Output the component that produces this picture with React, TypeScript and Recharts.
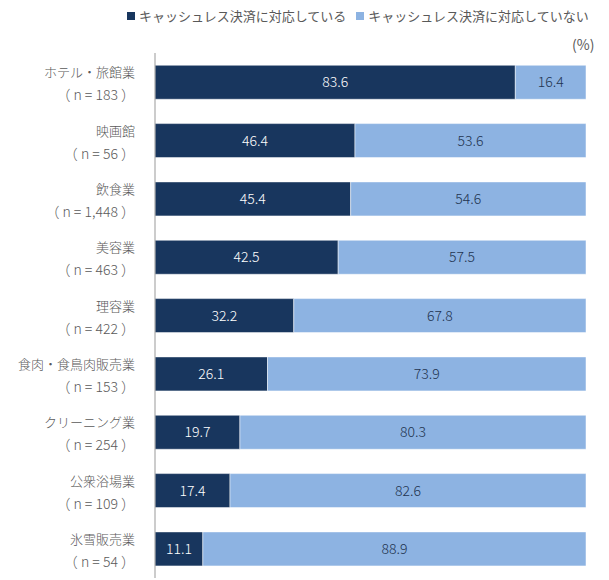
import { BarChart, Bar, XAxis, YAxis, LabelList } from 'recharts';

const categories = ['ホテル・旅館業', '映画館', '飲食業', '美容業', '理容業', '食肉・食鳥肉販売業', 'クリーニング業', '公衆浴場業', '氷雪販売業'];
const sampleSizes = ['183', '56', '1,448', '463', '422', '153', '254', '109', '54'];
const supported = [83.6, 46.4, 45.4, 42.5, 32.2, 26.1, 19.7, 17.4, 11.1];
const notSupported = [16.4, 53.6, 54.6, 57.5, 67.8, 73.9, 80.3, 82.6, 88.9];

const SERIES = [
  { key: 'supported', name: 'キャッシュレス決済に対応している', color: '#18365e', text: '#ffffff' },
  { key: 'notSupported', name: 'キャッシュレス決済に対応していない', color: '#8db3e2', text: '#1f3350' },
];

const FONT = '"Noto Sans CJK JP", "Noto Sans", sans-serif';

const data = categories.map((c, i) => ({
  name: c,
  n: sampleSizes[i],
  supported: supported[i],
  notSupported: notSupported[i],
}));

function CategoryTick({ x, y, payload, index }: any) {
  const n = sampleSizes[index ?? 0] ?? data.find((d) => d.name === payload.value)?.n;
  return (
    <g>
      <text x={x - 12} y={y - 5} textAnchor="end" fill="#595959" fontSize={13} fontWeight={300} fontFamily={FONT}>
        {payload.value}
      </text>
      <text x={x - 12} y={y + 18} textAnchor="end" fill="#595959" fontSize={14} fontWeight={300} fontFamily={FONT} xmlSpace="preserve">
        {`（ n = ${n} ）`}
      </text>
    </g>
  );
}

export default function App() {
  return (
    <div style={{ position: 'absolute', left: 0, top: 0, width: 609, height: 580, background: '#fff' }}>
      <div style={{ position: 'absolute', left: 127, top: 6, display: 'flex', fontFamily: FONT, fontSize: 13, color: '#595959' }}>
        {SERIES.map((s) => (
          <div key={s.key} style={{ display: 'flex', alignItems: 'center', marginRight: 10 }}>
            <span style={{ width: 8, height: 8, background: s.color, display: 'inline-block', marginRight: 4 }} />
            <span>{s.name}</span>
          </div>
        ))}
      </div>
      <div style={{ position: 'absolute', left: 572, top: 34, fontFamily: FONT, fontSize: 14, color: '#595959' }}>(%)</div>
      <BarChart
        width={609}
        height={580}
        data={data}
        layout="vertical"
        margin={{ top: 53, right: 23, bottom: 2, left: 0 }}
        barCategoryGap="21%"
      >
        <XAxis type="number" domain={[0, 100]} hide />
        <YAxis
          type="category"
          dataKey="name"
          width={155}
          tickLine={false}
          axisLine={{ stroke: '#999999' }}
          tick={<CategoryTick />}
          interval={0}
        />
        {SERIES.map((s) => (
          <Bar key={s.key} dataKey={s.key} name={s.name} stackId="a" fill={s.color} stroke="#ffffff" strokeWidth={0.5} isAnimationActive={false}>
            <LabelList
              dataKey={s.key}
              position="center"
              fill={s.text}
              fontSize={14}
              fontWeight={300}
              fontFamily={FONT}
              formatter={(v: any) => Number(v).toFixed(1)}
            />
          </Bar>
        ))}
      </BarChart>
    </div>
  );
}
